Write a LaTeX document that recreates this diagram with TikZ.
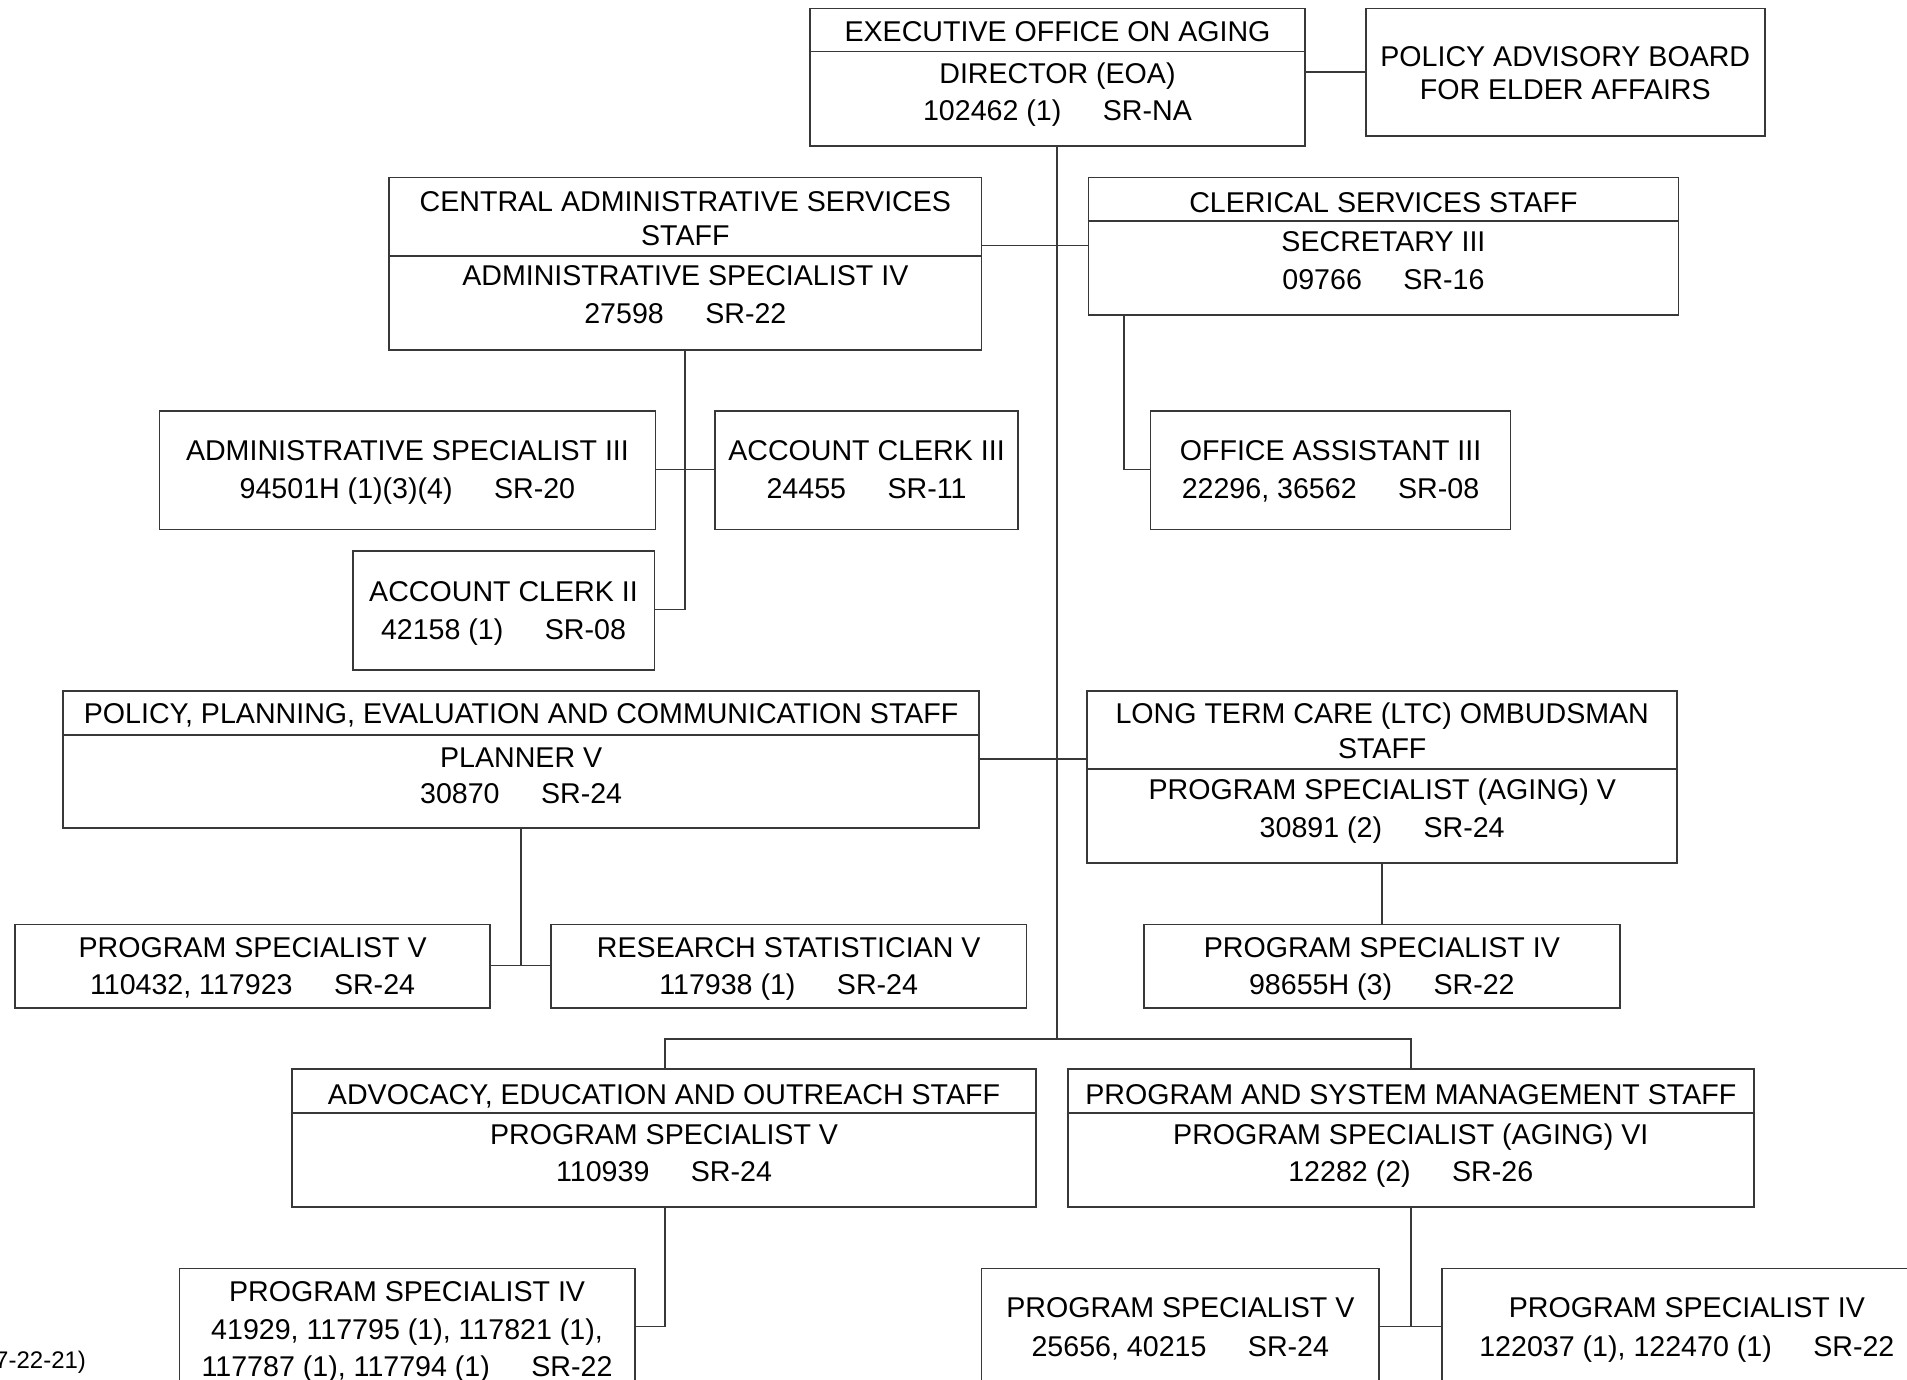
\documentclass[tikz,border=0pt]{standalone}
\usepackage{fontspec}
\setmainfont{Liberation Sans}
\usetikzlibrary{fit}
\newcommand{\gp}{\hspace*{1.45em}}
\begin{document}
\begin{tikzpicture}[x=0.6081pt,y=-0.6081pt,
  box/.style={draw=black!78, line width=0.8pt, inner sep=0pt},
  divline/.style={draw=black!78, line width=0.8pt},
  conn/.style={draw=black!78, line width=0.8pt},
  txt/.style={inner sep=0pt, anchor=base, font=\fontsize{14.3}{17}\selectfont, text=black},
  small/.style={inner sep=0pt, anchor=base east, font=\fontsize{12}{14}\selectfont, text=black},
]
\useasboundingbox (0,0) rectangle (1568,1134.6);
\fill[white] (0,0) rectangle (1568,1134.6);
\clip (0,0) rectangle (1568,1134.6);

% ---------- boxes ----------
\node[box, fit={(666,7) (1073,120)}] (exec) {};
\draw[divline] (exec.west |- 0,42.5) -- (exec.east |- 0,42.5);
\node[txt] (exec1) at (869.5,34.3) {EXECUTIVE OFFICE ON AGING};
\node[txt] (exec2) at (869.5,68.5) {DIRECTOR (EOA)};
\node[txt] (exec3) at (869.5,99) {102462 (1)\gp SR-NA};

\node[box, fit={(1123,7) (1451,112)}] (board) {};
\node[txt] (board1) at (1287,55) {POLICY ADVISORY BOARD};
\node[txt] (board2) at (1287,82) {FOR ELDER AFFAIRS};

\node[box, fit={(320,146) (807,288)}] (cas) {};
\draw[divline] (cas.west |- 0,210.5) -- (cas.east |- 0,210.5);
\node[txt] (cas1) at (563.5,174) {CENTRAL ADMINISTRATIVE SERVICES};
\node[txt] (cas2) at (563.5,202) {STAFF};
\node[txt] (cas3) at (563.5,234.5) {ADMINISTRATIVE SPECIALIST IV};
\node[txt] (cas4) at (563.5,266) {27598\gp SR-22};

\node[box, fit={(895,146) (1380,259)}] (cler) {};
\draw[divline] (cler.west |- 0,181.5) -- (cler.east |- 0,181.5);
\node[txt] (cler1) at (1137.5,175) {CLERICAL SERVICES STAFF};
\node[txt] (cler2) at (1137.5,207) {SECRETARY III};
\node[txt] (cler3) at (1137.5,238) {09766\gp SR-16};

\node[box, fit={(131,338) (539,435.5)}] (as3) {};
\node[txt] (as31) at (335,379) {ADMINISTRATIVE SPECIALIST III};
\node[txt] (as32) at (335,410) {94501H (1)(3)(4)\gp SR-20};

\node[box, fit={(588,338) (837,435.5)}] (ac3) {};
\node[txt] (ac31) at (712.5,379) {ACCOUNT CLERK III};
\node[txt] (ac32) at (712.5,410) {24455\gp SR-11};

\node[box, fit={(290,453) (538,551)}] (ac2) {};
\node[txt] (ac21) at (414,494.7) {ACCOUNT CLERK II};
\node[txt] (ac22) at (414,525.5) {42158 (1)\gp SR-08};

\node[box, fit={(946,338) (1242,435.5)}] (oa3) {};
\node[txt] (oa31) at (1094,379) {OFFICE ASSISTANT III};
\node[txt] (oa32) at (1094,410) {22296, 36562\gp SR-08};

\node[box, fit={(52,568) (805,681)}] (ppec) {};
\draw[divline] (ppec.west |- 0,604.3) -- (ppec.east |- 0,604.3);
\node[txt] (ppec1) at (428.5,594.7) {POLICY, PLANNING, EVALUATION AND COMMUNICATION STAFF};
\node[txt] (ppec2) at (428.5,631) {PLANNER V};
\node[txt] (ppec3) at (428.5,661) {30870\gp SR-24};

\node[box, fit={(894,568) (1379,709.5)}] (ltc) {};
\draw[divline] (ltc.west |- 0,632.5) -- (ltc.east |- 0,632.5);
\node[txt] (ltc1) at (1136.5,594.5) {LONG TERM CARE (LTC) OMBUDSMAN};
\node[txt] (ltc2) at (1136.5,623.5) {STAFF};
\node[txt] (ltc3) at (1136.5,657) {PROGRAM SPECIALIST (AGING) V};
\node[txt] (ltc4) at (1136.5,688.5) {30891 (2)\gp SR-24};

\node[box, fit={(12.5,760) (403,829)}] (ps5a) {};
\node[txt] (ps5a1) at (207.7,787) {PROGRAM SPECIALIST V};
\node[txt] (ps5a2) at (207.7,818) {110432, 117923\gp SR-24};

\node[box, fit={(453,760) (844,829)}] (rs5) {};
\node[txt] (rs51) at (648.5,787) {RESEARCH STATISTICIAN V};
\node[txt] (rs52) at (648.5,818) {117938 (1)\gp SR-24};

\node[box, fit={(940.5,760) (1332,829)}] (ps4a) {};
\node[txt] (ps4a1) at (1136.2,787) {PROGRAM SPECIALIST IV};
\node[txt] (ps4a2) at (1136.2,818) {98655H (3)\gp SR-22};

\node[box, fit={(240,879) (852,992.5)}] (adv) {};
\draw[divline] (adv.west |- 0,915.3) -- (adv.east |- 0,915.3);
\node[txt] (adv1) at (546,908) {ADVOCACY, EDUCATION AND OUTREACH STAFF};
\node[txt] (adv2) at (546,941) {PROGRAM SPECIALIST V};
\node[txt] (adv3) at (546,971.5) {110939\gp SR-24};

\node[box, fit={(878,879) (1442,992.5)}] (psm) {};
\draw[divline] (psm.west |- 0,915.3) -- (psm.east |- 0,915.3);
\node[txt] (psm1) at (1160,908) {PROGRAM AND SYSTEM MANAGEMENT STAFF};
\node[txt] (psm2) at (1160,941) {PROGRAM SPECIALIST (AGING) VI};
\node[txt] (psm3) at (1160,971.5) {12282 (2)\gp SR-26};

\node[box, fit={(147.5,1043) (522,1165)}] (ps4b) {};
\node[txt] (ps4b1) at (334.7,1070) {PROGRAM SPECIALIST IV};
\node[txt] (ps4b2) at (334.7,1101) {41929, 117795 (1), 117821 (1),};
\node[txt] (ps4b3) at (334.7,1132) {117787 (1), 117794 (1)\gp SR-22};

\node[box, fit={(807,1043) (1134,1165)}] (ps5b) {};
\node[txt] (ps5b1) at (970.5,1083.5) {PROGRAM SPECIALIST V};
\node[txt] (ps5b2) at (970.5,1115.5) {25656, 40215\gp SR-24};

\node[box, fit={(1185.5,1043) (1590,1165)}] (ps4c) {};
\node[txt] (ps4c1) at (1387,1083.5) {PROGRAM SPECIALIST IV};
\node[txt] (ps4c2) at (1387,1115.5) {122037 (1), 122470 (1)\gp SR-22};

\node[small] (date) at (71,1125) {7-22-21)};

% ---------- connectors ----------
\coordinate (trunkend) at (869,854.5);
\coordinate (jadv) at (547,854.5);
\coordinate (jpsm) at (1160,854.5);
\coordinate (jcas) at (563,501);
\coordinate (jcler) at (924,386);
\coordinate (jppec) at (428.5,794);
\coordinate (jadvb) at (547,1090.7);
\coordinate (jpsmb) at (1160,1090.7);

\draw[conn] (trunkend |- exec.south) -- (trunkend);
\draw[conn] (exec.east |- 0,59) -- (board.west |- 0,59);
\draw[conn] (cas.east |- 0,202) -- (cler.west |- 0,202);
\draw[conn] (jcas |- cas.south) -- (jcas) -- (ac2.east |- jcas);
\draw[conn] (as3.east |- 0,386) -- (ac3.west |- 0,386);
\draw[conn] (jcler |- cler.south) -- (jcler) -- (oa3.west |- jcler);
\draw[conn] (ppec.east |- 0,624) -- (ltc.west |- 0,624);
\draw[conn] (jppec |- ppec.south) -- (jppec);
\draw[conn] (ps5a.east |- jppec) -- (rs5.west |- jppec);
\draw[conn] (ltc.south -| ps4a.north) -- (ps4a.north);
\draw[conn] (jadv |- adv.north) -- (jadv) -- (jpsm) -- (jpsm |- psm.north);
\draw[conn] (jadvb |- adv.south) -- (jadvb) -- (ps4b.east |- jadvb);
\draw[conn] (jpsmb |- psm.south) -- (jpsmb);
\draw[conn] (ps5b.east |- jpsmb) -- (ps4c.west |- jpsmb);
\end{tikzpicture}
\end{document}
